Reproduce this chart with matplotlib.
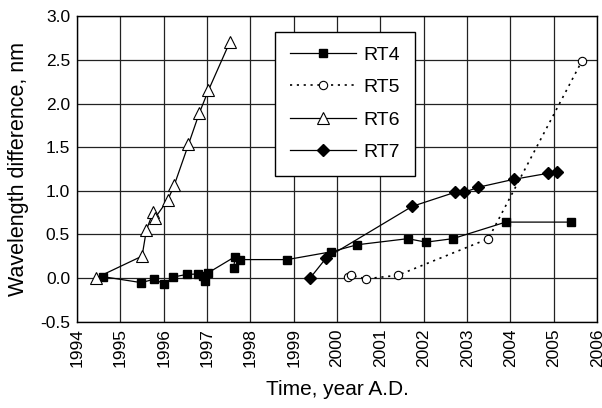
import matplotlib.pyplot as plt
import numpy as np

plt.rcParams['font.family'] = ['Liberation Sans', 'DejaVu Sans']

# data (year, wavelength difference in nm)
rt4_x = [1994.59, 1995.48, 1995.78, 1996.01, 1996.22, 1996.53, 1996.80, 1996.91,
         1996.95, 1997.03, 1997.65, 1997.61, 1997.76, 1998.85, 1999.87, 2000.46,
         2001.63, 2002.05, 2002.67, 2003.89, 2005.39]
rt4_y = [0.015, -0.054, -0.015, -0.07, 0.01, 0.04, 0.045, 0.023,
         -0.04, 0.06, 0.245, 0.11, 0.21, 0.21, 0.30, 0.38,
         0.45, 0.41, 0.45, 0.64, 0.64]

rt5_x = [2000.25, 2000.31, 2000.67, 2001.40, 2003.49, 2005.65]
rt5_y = [0.015, 0.03, -0.01, 0.03, 0.45, 2.49]

rt6_x = [1994.44, 1995.50, 1995.60, 1995.76, 1995.80, 1996.09, 1996.24, 1996.57,
         1996.82, 1997.03, 1997.52]
rt6_y = [0.0, 0.25, 0.55, 0.76, 0.69, 0.89, 1.06, 1.53, 1.89, 2.15, 2.70]

rt7_x = [1999.38, 1999.75, 2001.73, 2002.71, 2002.92, 2003.26, 2004.07, 2004.87, 2005.08]
rt7_y = [0.0, 0.23, 0.82, 0.98, 0.98, 1.04, 1.13, 1.20, 1.22]

fig, ax = plt.subplots(figsize=(6.02, 4.08), dpi=100)
fig.subplots_adjust(left=0.128, right=0.992, top=0.96, bottom=0.212)

ax.plot(rt4_x, rt4_y, '-', color='black', lw=0.9, marker='s', ms=6,
        mfc='black', mec='black', label='RT4', zorder=3)
ax.plot(rt5_x, rt5_y, color='black', lw=1.2, dashes=(1.3, 2.8), marker='o', ms=6,
        mfc='white', mec='black', mew=0.8, label='RT5', zorder=3)
ax.plot(rt6_x, rt6_y, '-', color='black', lw=0.9, marker='^', ms=8,
        mfc='white', mec='black', mew=0.8, label='RT6', zorder=3)
ax.plot(rt7_x, rt7_y, '-', color='black', lw=0.9, marker='D', ms=6,
        mfc='black', mec='black', label='RT7', zorder=3)

ax.set_xlim(1994, 2006)
ax.set_ylim(-0.5, 3.0)
ax.set_xticks(np.arange(1994, 2007, 1))
ax.set_yticks(np.arange(-0.5, 3.01, 0.5))
ax.set_xticklabels([str(y) for y in range(1994, 2007)], rotation=90)
ax.set_yticklabels(['%.1f' % v for v in np.arange(-0.5, 3.01, 0.5)])
ax.tick_params(labelsize=12.5, length=0, pad=5)

ax.grid(True, color='#222222', lw=0.9)
ax.set_axisbelow(True)
for s in ax.spines.values():
    s.set_color('black')
    s.set_linewidth(1.0)

ax.set_xlabel('Time, year A.D.', fontsize=15, labelpad=9)
ax.set_ylabel('Wavelength difference, nm', fontsize=15.5, labelpad=8)

leg = ax.legend(loc='upper left', bbox_to_anchor=(0.381, 0.95), fontsize=14,
                frameon=True, fancybox=False, handlelength=3.4, handletextpad=0.4,
                borderpad=0.75, labelspacing=0.76, borderaxespad=0)
leg.get_frame().set_edgecolor('black')
leg.get_frame().set_linewidth(1.0)
leg.get_frame().set_alpha(1)

fig.savefig('out.png', dpi=100)
